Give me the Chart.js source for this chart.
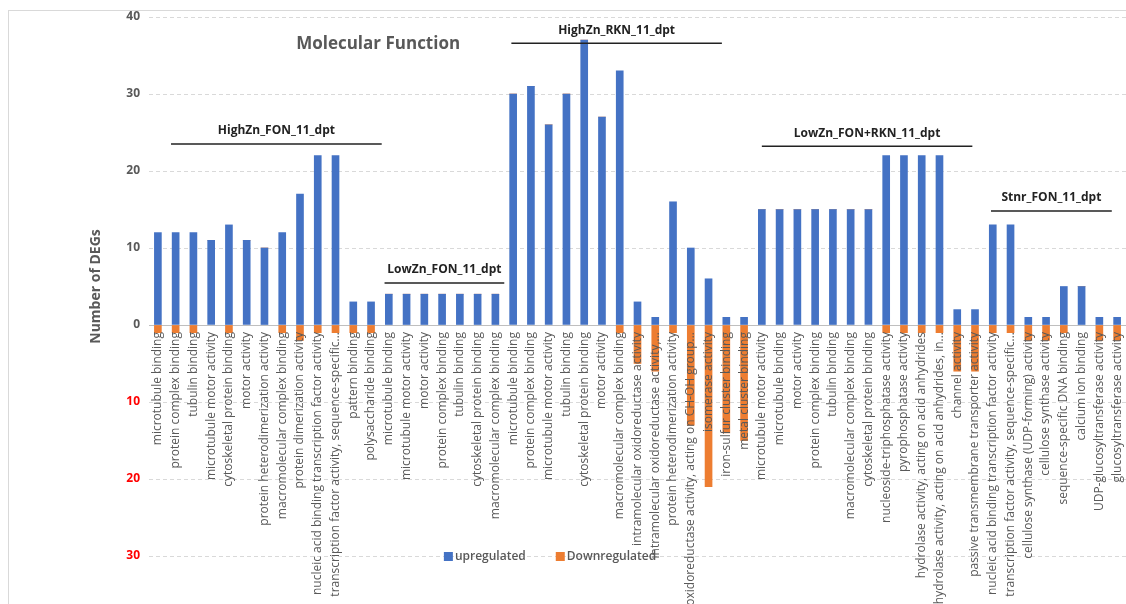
<!DOCTYPE html>
<html>
<head>
<meta charset="utf-8">
<script src="https://cdn.jsdelivr.net/npm/chart.js@4.4.1/dist/chart.umd.min.js"></script>
<style>
  html, body { margin: 0; padding: 0; background: #fff; overflow: hidden; }
  #wrap { position: relative; width: 1126px; height: 604px; overflow: hidden; }
  #frame { position: absolute; left: 8px; top: 10px; width: 1200px; height: 700px; border: 1px solid #d9d9d9; }
  canvas { position: absolute; left: 0; top: 0; }
</style>
</head>
<body>
<div id="wrap"><div id="frame"></div><canvas id="mf-chart" width="1126" height="604"></canvas></div>
<script>
const categories = [
  // HighZn_FON_11_dpt
  "microtubule binding", "protein complex binding", "tubulin binding",
  "microtubule motor activity", "cytoskeletal protein binding", "motor activity",
  "protein heterodimerization activity", "macromolecular complex binding",
  "protein dimerization activity", "nucleic acid binding transcription factor activity",
  "transcription factor activity, sequence-specific...", "pattern binding",
  "polysaccharide binding",
  // LowZn_FON_11_dpt
  "microtubule binding", "microtubule motor activity", "motor activity",
  "protein complex binding", "tubulin binding", "cytoskeletal protein binding",
  "macromolecular complex binding",
  // HighZn_RKN_11_dpt
  "microtubule binding", "protein complex binding", "microtubule motor activity",
  "tubulin binding", "cytoskeletal protein binding", "motor activity",
  "macromolecular complex binding", "intramolecular oxidoreductase activity",
  "intramolecular oxidoreductase activity,...", "protein heterodimerization activity",
  "oxidoreductase activity, acting on CH-OH group...", "isomerase activity",
  "iron-sulfur cluster binding", "metal cluster binding",
  // LowZn_FON+RKN_11_dpt
  "microtubule motor activity", "microtubule binding", "motor activity",
  "protein complex binding", "tubulin binding", "macromolecular complex binding",
  "cytoskeletal protein binding", "nucleoside-triphosphatase activity",
  "pyrophosphatase activity", "hydrolase activity, acting on acid anhydrides",
  "hydrolase activity, acting on acid anhydrides, in...", "channel activity",
  "passive transmembrane transporter activity",
  // Stnr_FON_11_dpt
  "nucleic acid binding transcription factor activity",
  "transcription factor activity, sequence-specific...",
  "cellulose synthase (UDP-forming) activity", "cellulose synthase activity",
  "sequence-specific DNA binding", "calcium ion binding",
  "UDP-glucosyltransferase activity", "glucosyltransferase activity"
];

const upregulated = [
  12, 12, 12, 11, 13, 11, 10, 12, 17, 22, 22, 3, 3,
  4, 4, 4, 4, 4, 4, 4,
  30, 31, 26, 30, 37, 27, 33, 3, 1, 16, 10, 6, 1, 1,
  15, 15, 15, 15, 15, 15, 15, 22, 22, 22, 22, 2, 2,
  13, 13, 1, 1, 5, 5, 1, 1
];

const downregulated = [
  1, 1, 1, 0, 1, 0, 0, 1, 2, 1, 1, 1, 1,
  0, 0, 0, 0, 0, 0, 0,
  0, 0, 0, 0, 0, 0, 1, 5, 6, 1, 13, 21, 14, 15,
  0, 0, 0, 0, 0, 0, 0, 1, 1, 1, 1, 6, 6,
  1, 1, 2, 2, 1, 0, 2, 2
];

const yTickValues = [-30, -20, -10, 0, 10, 20, 30, 40];

const groupNames = [
  "HighZn_FON_11_dpt", "LowZn_FON_11_dpt", "HighZn_RKN_11_dpt",
  "LowZn_FON+RKN_11_dpt", "Stnr_FON_11_dpt"
];

// bracket placement in category index / value units
const groupBrackets = [
  { from: 0.74, to: 12.6, level: 23.5 },
  { from: 12.76, to: 19.5, level: 5.45 },
  { from: 19.9, to: 31.75, level: 36.6 },
  { from: 34.0, to: 45.85, level: 23.2 },
  { from: 46.9, to: 53.7, level: 14.8 }
];

const BLUE = "#4472C4";
const ORANGE = "#ED7D31";
const GRAY = "#595959";
const FONT = "'Open Sans', 'Liberation Sans', sans-serif";

const overlay = {
  id: "overlay",
  afterDraw(chart) {
    const { ctx, scales } = chart;
    const x = scales.x, y = scales.y;
    const idx = (v) => x.getPixelForValue(0) + v * (x.getPixelForValue(1) - x.getPixelForValue(0));
    ctx.save();

    // chart title
    ctx.fillStyle = GRAY;
    ctx.font = "bold 17px " + FONT;
    ctx.textAlign = "center";
    ctx.textBaseline = "middle";
    ctx.fillText("Molecular Function", idx(12.4), y.getPixelForValue(36.5));

    // group brackets
    groupBrackets.forEach((g, i) => {
      const x0 = idx(g.from), x1 = idx(g.to), yy = y.getPixelForValue(g.level);
      ctx.strokeStyle = "#222";
      ctx.lineWidth = 1.5;
      ctx.beginPath();
      ctx.moveTo(x0, yy);
      ctx.lineTo(x1, yy);
      ctx.stroke();
      ctx.fillStyle = "#222";
      ctx.font = "bold 12px " + FONT;
      ctx.fillText(groupNames[i], (x0 + x1) / 2, yy - 13);
    });

    // legend
    const ly = y.getPixelForValue(-30);
    let lx = idx(16.1);
    ctx.font = "600 12px " + FONT;
    ctx.textAlign = "left";
    chart.data.datasets.forEach((ds) => {
      ctx.fillStyle = ds.backgroundColor;
      ctx.fillRect(lx, ly - 4, 9, 9);
      ctx.fillStyle = GRAY;
      ctx.fillText(ds.label, lx + 11, ly + 1);
      lx += 11 + ctx.measureText(ds.label).width + 30;
    });
    ctx.restore();
  }
};

new Chart(document.querySelector("#mf-chart").getContext("2d"), {
  type: "bar",
  data: {
    labels: categories,
    datasets: [
      {
        label: "upregulated",
        data: upregulated,
        backgroundColor: BLUE
      },
      {
        label: "Downregulated",
        data: downregulated.map((v) => -v),
        backgroundColor: ORANGE
      }
    ]
  },
  options: {
    responsive: false,
    animation: false,
    devicePixelRatio: 1,
    layout: { padding: { left: 84, top: 17, right: 0, bottom: 48 } },
    datasets: { bar: { barThickness: 7 } },
    plugins: {
      legend: { display: false },
      tooltip: { enabled: false }
    },
    scales: {
      x: {
        stacked: true,
        position: { y: 0 },
        grid: { display: false, drawTicks: false },
        border: { display: false },
        ticks: {
          z: 1,
          autoSkip: false,
          minRotation: 90,
          maxRotation: 90,
          padding: 7,
          color: GRAY,
          font: { family: FONT, size: 12 }
        },
        afterFit(scale) {
          scale.paddingLeft = 0;
          scale.paddingRight = 0;
        }
      },
      y: {
        stacked: true,
        min: -30,
        max: 40,
        afterBuildTicks(scale) {
          scale.ticks = yTickValues.map((v) => ({ value: v }));
        },
        afterFit(scale) {
          scale.width = 65;
        },
        grid: {
          drawTicks: false,
          color: (c) => (c.tick && c.tick.value === 0 ? "#bfbfbf" : "#d9d9d9")
        },
        border: {
          display: false,
          dash: (c) => (c.tick && c.tick.value === 0 ? [] : [4, 3])
        },
        ticks: {
          padding: 9,
          callback: (v) => Math.abs(v),
          color: (c) => (c.tick && c.tick.value < 0 ? "#FF0000" : GRAY),
          font: { family: FONT, size: 12, weight: "bold" }
        },
        title: {
          display: true,
          text: "Number of DEGs",
          color: GRAY,
          padding: { top: 4, bottom: 6 },
          font: { family: FONT, size: 14, weight: "bold" }
        }
      }
    }
  },
  plugins: [overlay]
});
</script>
</body>
</html>
